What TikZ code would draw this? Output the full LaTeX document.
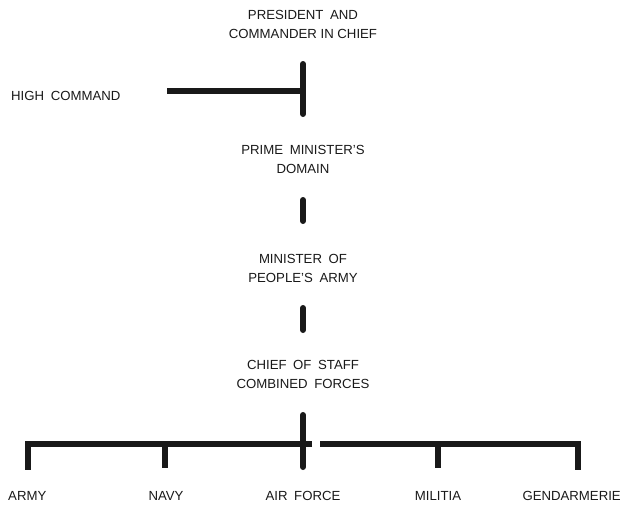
\documentclass[tikz,border=0pt]{standalone}
\usepackage{fontspec}
\setmainfont{Liberation Sans}
\newcommand{\wsp}{\hspace{0.5em}}
\begin{document}
\begin{tikzpicture}[x=1pt,y=-1pt,
  lbl/.style={font=\fontsize{13.2}{19}\selectfont, align=center, inner sep=0pt, text=black!90},
  bar/.style={line width=6pt, line cap=round, black!90},
  hbar/.style={line width=5.5pt, black!90}]
\useasboundingbox (0,0) rectangle (622,506);
% labels
\node[lbl] (pres) at (303,24) {PRESIDENT\wsp AND\\COMMANDER IN CHIEF};
\node[lbl,anchor=west] (high) at (11,96) {HIGH\wsp COMMAND};
\node[lbl] (pm) at (303,159) {PRIME\wsp MINISTER'S\\DOMAIN};
\node[lbl] (min) at (303,268) {MINISTER\wsp OF\\PEOPLE'S\wsp ARMY};
\node[lbl] (cos) at (303,374) {CHIEF\wsp OF\wsp STAFF\\COMBINED\wsp FORCES};
\node[lbl,anchor=west] (army) at (8,496) {ARMY};
\node[lbl] (navy) at (166,496) {NAVY};
\node[lbl] (air) at (303,496) {AIR\wsp FORCE};
\node[lbl] (mil) at (438,496) {MILITIA};
\node[lbl,anchor=east] (gen) at (621,496) {GENDARMERIE};
% connector points
\coordinate (t1) at (303,64);
\coordinate (t2) at (303,114);
\coordinate (tj) at (303,91);
\coordinate (hl) at (167,91);
\coordinate (p1) at (303,200);
\coordinate (p2) at (303,221);
\coordinate (m1) at (303,308);
\coordinate (m2) at (303,330);
\coordinate (c1) at (303,415);
\coordinate (c2) at (303,467);
\coordinate (bl) at (28,444);
\coordinate (bm) at (312,444);
\coordinate (bm2) at (320,444);
\coordinate (br) at (578,444);
\coordinate (d1) at (28,470);
\coordinate (n1) at (165,444);
\coordinate (n2) at (165,468);
\coordinate (l1) at (438,444);
\coordinate (l2) at (438,468);
\coordinate (r1) at (578,470);
% connectors
\draw[bar] (t1) -- (t2);
\draw[hbar] (hl) -- (tj);
\draw[bar] (p1) -- (p2);
\draw[bar] (m1) -- (m2);
\draw[bar] (c1) -- (c2);
\draw[hbar] (bm) -- (bl) -- (d1);
\draw[hbar] (bm2) -- (br) -- (r1);
\draw[hbar] (n1) -- (n2);
\draw[hbar] (l1) -- (l2);
\end{tikzpicture}
\end{document}
